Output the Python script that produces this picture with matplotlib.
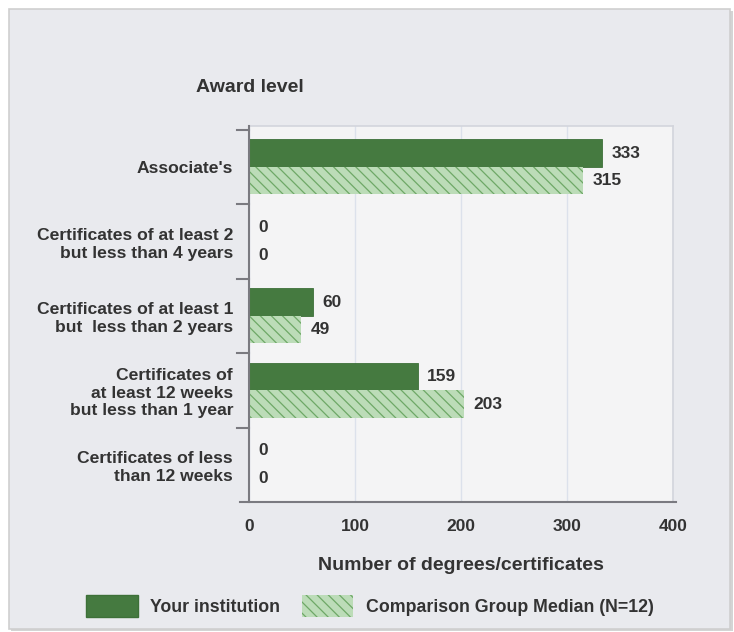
import matplotlib
matplotlib.use("Agg")
import matplotlib.pyplot as plt
from matplotlib.patches import Rectangle, Patch
import numpy as np

categories = ["Associate's",
              "Certificates of at least 2\nbut less than 4 years",
              "Certificates of at least 1\nbut  less than 2 years",
              "Certificates of\nat least 12 weeks\nbut less than 1 year",
              "Certificates of less\nthan 12 weeks"]
your_institution = [333, 0, 60, 159, 0]
comparison_median = [315, 0, 49, 203, 0]
xticks = [0, 100, 200, 300, 400]
series_names = ["Your institution", "Comparison Group Median (N=12)"]

plt.rcParams['font.family'] = ['Liberation Sans', 'DejaVu Sans']
plt.rcParams['hatch.linewidth'] = 0.9

W, H = 734, 632
fig = plt.figure(figsize=(W/100, H/100), dpi=100)
fig.patch.set_facecolor('white')

# outer frame
fig.patches.append(Rectangle((11/W, 1/H), 722/W, 620/H, transform=fig.transFigure,
                             facecolor='#d4d4d4', edgecolor='none', zorder=-3))
fig.patches.append(Rectangle((9/W, 3/H), 721/W, 620/H, transform=fig.transFigure,
                             facecolor='#e9eaee', edgecolor='#cfcfcf', linewidth=1.2, zorder=-2))

left, right, top, bottom = 249, 673, 126, 502
ax = fig.add_axes([left/W, 1-bottom/H, (right-left)/W, (bottom-top)/H])
ax.set_facecolor('#f4f4f5')

dark = '#457a40'
light = '#bcdcb8'
hatch_col = '#6ea867'
y = np.arange(len(categories))
h = 0.37
ax.barh(y - 0.185, your_institution, height=h, color=dark, edgecolor='#3d7038', linewidth=0.6, zorder=3)
ax.barh(y + 0.185, comparison_median, height=h, color=light, edgecolor=hatch_col, linewidth=0,
        hatch='\\\\\\', zorder=3)

txtc = '#333333'
for yi, v in zip(y, your_institution):
    ax.text(v + 9, yi - 0.185, str(v), va='center', ha='left', fontsize=12.5, fontweight='bold', color=txtc)
for yi, v in zip(y, comparison_median):
    ax.text(v + 9, yi + 0.185, str(v), va='center', ha='left', fontsize=12.5, fontweight='bold', color=txtc)

ax.set_xlim(0, 400)
ax.set_ylim(4.5, -0.55)
ax.set_xticks(xticks)
ax.set_xticklabels([str(t) for t in xticks], fontsize=12.5, fontweight='bold', color=txtc)
ax.tick_params(axis='x', length=0, pad=12)
ax.set_yticks(y)
ax.set_yticklabels(categories, fontsize=12.6, fontweight='bold', color=txtc, linespacing=1.22)
ax.tick_params(axis='y', length=0, pad=11.5)
ax.grid(axis='x', color='#dce1eb', linewidth=1, zorder=0)

for s in ['top', 'right']:
    ax.spines[s].set_color('#d3d5dc')
    ax.spines[s].set_linewidth(1.2)
ax.spines['left'].set_color('#7a7a80')
ax.spines['left'].set_linewidth(1.5)
ax.spines['bottom'].set_visible(False)
ax.spines['left'].set_zorder(4)

# bottom axis line extending left
fig.add_artist(plt.Line2D([240/W, 676/W], [1-502/H, 1-502/H], color='#7a7a80', linewidth=1.5,
                          transform=fig.transFigure))
# category boundary ticks
for b in np.arange(-0.5, 4.0, 1.0):
    ax.plot([-0.028, 0], [b, b], transform=ax.get_yaxis_transform(), color='#7a7a80',
            linewidth=1.5, clip_on=False, zorder=4)

ax.set_xlabel("Number of degrees/certificates", fontsize=14, fontweight='bold', color=txtc, labelpad=17)
fig.text(250/W, 1-88/H, "Award level", fontsize=14, fontweight='bold', color=txtc, ha='center', va='center')

handles = [Patch(facecolor=dark, edgecolor='#3d7038'),
           Patch(facecolor=light, edgecolor=hatch_col, linewidth=0, hatch='\\\\\\')]
leg = fig.legend(handles, series_names, loc='center', bbox_to_anchor=(370/W, 1-606/H), ncol=2,
                 frameon=False, handlelength=2.9, handleheight=1.6, columnspacing=1.2, handletextpad=0.7,
                 prop={'size': 12.8, 'weight': 'bold'})
for t in leg.get_texts():
    t.set_color(txtc)

fig.savefig('out.png', dpi=100, facecolor=fig.get_facecolor())
